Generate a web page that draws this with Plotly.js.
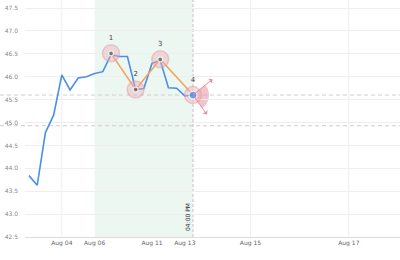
<!DOCTYPE html>
<html>
<head>
<meta charset="utf-8">
<script src="https://cdn.plot.ly/plotly-3.0.1.min.js"></script>
<style>html,body{margin:0;padding:0;background:#fff;}#chart{width:400px;height:260px;}</style>
</head>
<body>
<div id="chart"></div>
<script>
// Price series (gapless index axis)
const priceIdx = [0,1,2,3,4,5,6,7,8,9,10,11,12,13,14,15,16,17,18,19,20];
const priceVals = [43.84,43.63,44.78,45.16,46.04,45.71,45.97,46.00,46.07,46.11,46.48,46.44,46.44,45.72,45.74,46.29,46.36,45.76,45.75,45.58,45.60];
// Drawn pattern points
const pointIdx = [10,13,16,20];
const pointVals = [46.51,45.72,46.38,45.60];
const pointLabels = ['1','2','3','4'];
// Horizontal reference levels
const levels = [45.60,44.93];
// Highlighted range (index)
const bandStart = 8, bandEnd = 20;
// X tick labels
const tickPos = [4,8,15,19,27,39];
const tickLabels = ['Aug 04','Aug 06','Aug 11','Aug 13','Aug 15','Aug 17'];
const timeLabel = '04:00 PM';

const FONT = 'DejaVu Sans, sans-serif';
const last = pointIdx.length - 1;

const traces = [
  {x: priceIdx, y: priceVals, type:'scatter', mode:'lines',
   line:{color:'#4a8fe8', width:1.6}, hoverinfo:'skip'},
  {x: pointIdx, y: pointVals, type:'scatter', mode:'lines',
   line:{color:'#f4a460', width:1.6}, hoverinfo:'skip'},
  {x: pointIdx, y: pointVals, type:'scatter', mode:'markers+text',
   text: pointLabels, textposition:'top center',
   textfont:{family:FONT, size:7, color:'#444'},
   marker:{size:17, color:'rgba(236,175,185,0.45)', line:{width:1.5, color:'rgba(225,150,165,0.45)'}},
   hoverinfo:'skip'},
  {x: pointIdx, y: pointVals, type:'scatter', mode:'markers',
   marker:{size: pointIdx.map((_,i)=> i===last?8:5),
           color: pointIdx.map((_,i)=> i===last?'#3b8cf0':'#555'),
           line:{width:1.2, color:'#fff'}}, hoverinfo:'skip'}
];

const shapes = [];
// vertical grid lines outside the band
tickPos.forEach(p => {
  if (p < bandStart || p > bandEnd) {
    shapes.push({type:'line', layer:'below', xref:'x', yref:'paper', x0:p, x1:p, y0:0, y1:1,
      line:{color:'#eeeeee', width:1}});
  }
});
shapes.push({type:'rect', layer:'below', xref:'x', yref:'paper', x0:bandStart, x1:bandEnd, y0:0, y1:1,
  fillcolor:'rgba(222,240,232,0.55)', line:{width:0}});
levels.forEach(v => {
  shapes.push({type:'line', layer:'below', xref:'paper', yref:'y', x0:-25/375, x1:1, y0:v, y1:v,
    line:{color:'#cfcfcf', width:1, dash:'4px,3px'}});
});
shapes.push({type:'line', layer:'below', xref:'x', yref:'paper', x0:pointIdx[last], x1:pointIdx[last], y0:0, y1:1,
  line:{color:'#c4c4c4', width:1, dash:'3px,2px'}});
// fan wedge at last point (pixel-sized decoration)
(function(){
  const r = 16, a0 = 40, a1 = -55, n = 12;
  let d = 'M0,0';
  for (let i=0;i<=n;i++){
    const a = (a0 + (a1-a0)*i/n) * Math.PI/180;
    d += ' L' + (r*Math.cos(a)).toFixed(2) + ',' + (r*Math.sin(a)).toFixed(2);
  }
  d += ' Z';
  shapes.push({type:'path', layer:'below', xref:'x', yref:'y', xsizemode:'pixel', ysizemode:'pixel',
    xanchor: pointIdx[last], yanchor: pointVals[last], path:d,
    fillcolor:'rgba(228,140,155,0.5)', line:{width:0}});
})();

const annotations = [
  {x: pointIdx[last], y: pointVals[last], xref:'x', yref:'y', text:'', showarrow:true,
   ax:21, ay:-17, arrowside:'start', arrowhead:2, arrowsize:0.9, arrowwidth:1, arrowcolor:'rgba(225,125,145,0.85)'},
  {x: pointIdx[last], y: pointVals[last], xref:'x', yref:'y', text:'', showarrow:true,
   ax:15, ay:21, arrowside:'start', arrowhead:2, arrowsize:0.9, arrowwidth:1, arrowcolor:'rgba(225,125,145,0.85)'},
  {x: pointIdx[last], y: 0, xref:'x', yref:'paper', text: timeLabel, showarrow:false,
   textangle:-90, xanchor:'center', yanchor:'bottom', xshift:-6, yshift:4,
   font:{family:FONT, size:6, color:'#333'}}
];

const layout = {
  width:400, height:260,
  margin:{l:25, r:0, t:0, b:23},
  paper_bgcolor:'#fff', plot_bgcolor:'#fff',
  showlegend:false,
  xaxis:{range:[-0.49,45.24], tickmode:'array', tickvals:tickPos, ticktext:tickLabels,
    showgrid:false, zeroline:false, showline:true, linecolor:'#dddddd', linewidth:1,
    ticks:'', tickfont:{family:FONT, size:6, color:'#666'}, fixedrange:true},
  yaxis:{range:[42.5,47.675], tick0:42.5, dtick:0.5, tickformat:'.1f',
    showgrid:true, gridcolor:'#eeeeee', zeroline:false, showline:false,
    ticks:'', ticklabelstandoff:6, tickfont:{family:FONT, size:6, color:'#888'}, fixedrange:true},
  shapes: shapes,
  annotations: annotations
};

Plotly.newPlot('chart', traces, layout, {displayModeBar:false, staticPlot:true});
</script>
</body>
</html>
